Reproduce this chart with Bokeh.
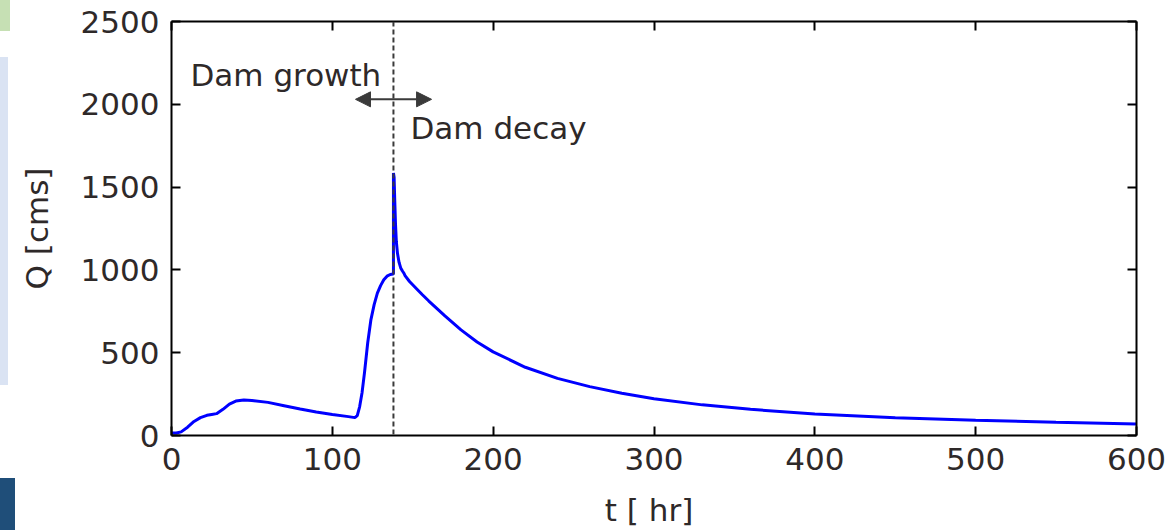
import numpy as np
from bokeh.plotting import figure
from bokeh.layouts import row, column
from bokeh.models import (Range1d, LinearAxis, Span, Arrow, NormalHead, Label,
                          FixedTicker, Div)
from bokeh.embed import file_html
from bokeh.resources import INLINE

# ---- data ----
t_hr = [0, 3, 6, 10, 14, 18, 22, 25, 28, 32, 36, 40, 45, 50, 60, 70, 80, 90, 100,
        110, 114, 115.5, 117, 118.5, 120, 122, 124, 126, 128, 130, 132, 134, 136,
        137.8, 138.0, 138.0, 138.4, 138.8, 139.3, 139.8, 140.5, 141.5, 142.5,
        143.5, 144.5, 145.2, 148, 152.5, 156, 160, 170, 180, 190, 200, 220, 240,
        260, 280, 300, 330, 360, 400, 450, 500, 550, 600]
q_cms = [15, 15, 22, 50, 85, 108, 122, 127, 132, 158, 190, 208, 215, 212, 200, 180,
         160, 142, 127, 114, 108, 120, 175, 260, 380, 560, 700, 790, 860, 905, 940,
         962, 972, 975, 978, 1585, 1560, 1420, 1270, 1170, 1100, 1045, 1012, 995,
         980, 966, 930, 885, 850, 812, 722, 638, 565, 505, 412, 345, 295, 255, 222,
         185, 158, 130, 107, 92, 80, 70]
x_ticks = [0, 100, 200, 300, 400, 500, 600]
y_ticks = [0, 500, 1000, 1500, 2000, 2500]
dam_break_t = 138
arrow_t = [114.4, 161.7]
arrow_q = 2030
growth_label = ("Dam growth", 11.8, 2174)
decay_label = ("Dam decay", 148.6, 1858)

FONT = "DejaVu Sans"
TXT = "#2e2929"
DARK = "#3a3a3a"
STRIP = 15  # width of the left strip showing neighbouring panel fragments

p = figure(width=1166 - STRIP, height=530, output_backend="svg", toolbar_location=None,
           x_range=Range1d(0, 600), y_range=Range1d(0, 2500),
           min_border_left=171 - STRIP, min_border_right=30, min_border_top=21,
           min_border_bottom=94, background_fill_color="white",
           border_fill_color="white", outline_line_color=None, margin=0)
p.xgrid.visible = False
p.ygrid.visible = False


def style_axis(ax, labels=True):
    ax.axis_line_width = 2
    ax.axis_line_color = "black"
    ax.major_tick_line_width = 2
    ax.major_tick_line_color = "black"
    ax.major_tick_in = 9
    ax.major_tick_out = 0
    ax.minor_tick_line_color = None
    ax.major_label_text_font = FONT
    ax.major_label_text_color = TXT
    ax.major_label_text_font_size = "31px"
    if not labels:
        ax.major_label_overrides = {t: "" for t in ax.ticker.ticks}
        ax.major_label_standoff = 0


p.xaxis.ticker = FixedTicker(ticks=x_ticks)
p.yaxis.ticker = FixedTicker(ticks=y_ticks)
style_axis(p.xaxis[0])
style_axis(p.yaxis[0])
p.xaxis.major_label_standoff = 12
p.yaxis.major_label_standoff = 12
p.xaxis.axis_label = "t  [ hr]"
p.yaxis.axis_label = "Q [cms]"
for ax in (p.xaxis[0], p.yaxis[0]):
    ax.axis_label_text_font = FONT
    ax.axis_label_text_font_size = "31px"
    ax.axis_label_text_font_style = "normal"
    ax.axis_label_text_color = TXT
p.xaxis.axis_label_standoff = 19
p.yaxis.axis_label_standoff = 23

top = LinearAxis(ticker=FixedTicker(ticks=x_ticks))
right = LinearAxis(ticker=FixedTicker(ticks=y_ticks))
style_axis(top, labels=False)
style_axis(right, labels=False)
p.add_layout(top, "above")
p.add_layout(right, "right")

p.line(t_hr, q_cms, line_color="#0000ff", line_width=3)

p.add_layout(Span(location=dam_break_t, dimension="height", line_color=DARK,
                  line_width=2, line_dash="5 3"))

head = dict(size=15, fill_color=DARK, line_color=DARK)
p.add_layout(Arrow(start=NormalHead(**head), end=NormalHead(**head),
                   x_start=arrow_t[0], y_start=arrow_q, x_end=arrow_t[1], y_end=arrow_q,
                   line_color=DARK, line_width=2))

for txt, x, y in (growth_label, decay_label):
    p.add_layout(Label(x=x, y=y, text=txt, text_font=FONT, text_font_size="31px",
                       text_color=TXT, text_baseline="alphabetic"))


# neighbouring-panel fragments at the left edge
def block(w, h, color=None):
    st = {"background-color": color} if color else {}
    return Div(text="", width=w, height=h, margin=0, styles=st)


strip = column(
    block(10, 31, "#c6e0b4"),
    block(STRIP, 26),
    block(8, 328, "#dae3f3"),
    block(STRIP, 93),
    block(STRIP, 52, "#1f4e79"),
    spacing=0, margin=0, width=STRIP,
)
layout = row(strip, p, spacing=0, margin=0)

open("out.html", "w").write(file_html(layout, INLINE))
